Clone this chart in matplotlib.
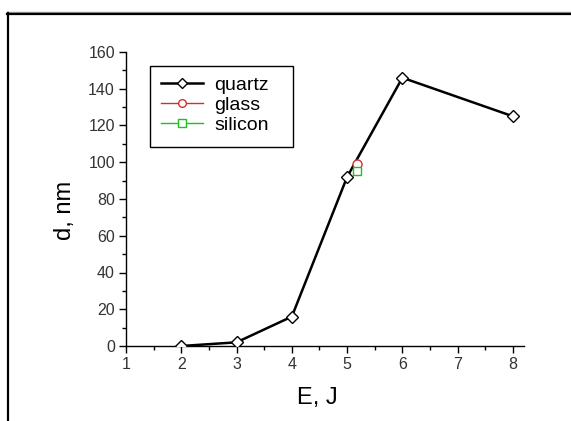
import matplotlib
matplotlib.use("Agg")
import matplotlib.pyplot as plt
from matplotlib.lines import Line2D
from matplotlib.patches import Rectangle
from matplotlib.ticker import MultipleLocator

plt.rcParams['font.family'] = ['Liberation Sans', 'DejaVu Sans']

# data
quartz_x = [2, 3, 4, 5, 6, 8]
quartz_y = [0, 2, 16, 92, 146, 125]
glass_x = [5.18]
glass_y = [99]
silicon_x = [5.17]
silicon_y = [95]
x_ticks = [1, 2, 3, 4, 5, 6, 7, 8]
y_ticks = [0, 20, 40, 60, 80, 100, 120, 140, 160]

W, H = 571, 421
fig = plt.figure(figsize=(W / 100, H / 100), dpi=100)

def fx(px):
    return px / W

def fy(py):
    return 1 - py / H

ax = fig.add_axes([fx(126), fy(346), fx(524) - fx(126), fy(52) - fy(346)])

ax.plot(quartz_x, quartz_y, color='black', lw=1.8, marker='D', ms=6.5,
        mfc='white', mec='black', mew=1.0, label='quartz', zorder=3)
ax.plot(glass_x, glass_y, color='#d03030', lw=1.0, marker='o', ms=6.5,
        mfc='white', mec='#d03030', mew=1.0, label='glass', zorder=4)
ax.plot(silicon_x, silicon_y, color='#20c020', lw=1.0, marker='s', ms=6,
        mfc='white', mec='#20c020', mew=1.0, label='silicon', zorder=4)

ax.set_xlim(1, 8.2)
ax.set_ylim(0, 160)
ax.set_xticks(x_ticks)
ax.set_yticks(y_ticks)
ax.xaxis.set_minor_locator(MultipleLocator(0.5))
ax.yaxis.set_minor_locator(MultipleLocator(10))
ax.spines['top'].set_visible(False)
ax.spines['right'].set_visible(False)
ax.spines['left'].set_linewidth(1.0)
ax.spines['bottom'].set_linewidth(1.0)
ax.tick_params(which='major', direction='out', length=5, width=1.0,
               labelsize=11.5, pad=3, colors='black', labelcolor='#333333')
ax.tick_params(which='minor', direction='out', length=3, width=1.0)

fig.text(fx(65), fy(210), 'd, nm', rotation=90, fontsize=17,
         ha='center', va='center')
fig.text(fx(317), fy(398), 'E, J', fontsize=17, ha='center', va='center')

# legend frame
frame = Rectangle((fx(150), fy(147)), fx(293) - fx(150), fy(66) - fy(147),
                  transform=fig.transFigure, facecolor='white', edgecolor='black',
                  lw=1.0, zorder=5, clip_on=False)
ax.add_patch(frame)

leg = ax.legend(loc='upper left',
                bbox_to_anchor=(fx(150), fy(66)), bbox_transform=fig.transFigure,
                frameon=False, fontsize=14, handlelength=2.2,
                handletextpad=0.55, labelspacing=0.12, borderpad=0.55,
                borderaxespad=0, markerscale=0.85)
leg.set_zorder(6)

# outer frame (top and left visible)
fig.add_artist(Line2D([fx(7), fx(571)], [fy(11.5), fy(11.5)], color='#999999', lw=1.0))
fig.add_artist(Line2D([fx(7), fx(572)], [fy(13.5), fy(13.5)], color='black', lw=1.6))
fig.add_artist(Line2D([fx(7.5), fx(7.5)], [fy(12.7), fy(425)], color='black', lw=1.6))

fig.savefig('out.png', dpi=100)
